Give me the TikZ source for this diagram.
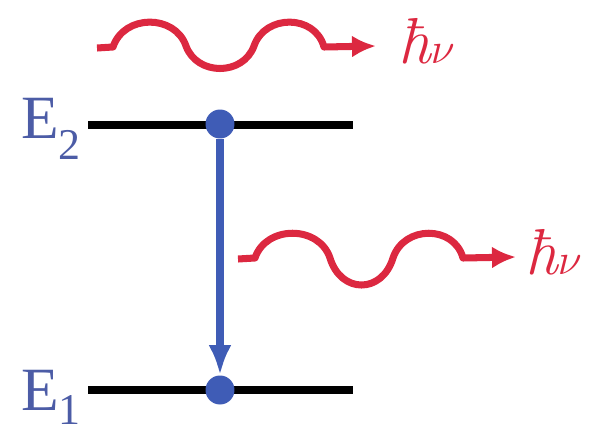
\documentclass[tikz,border=0pt]{standalone}
\usepackage{fontspec}
\newfontfamily\efont{Liberation Serif}
\usepackage{xcolor}
\usepackage{tikz}
\usetikzlibrary{arrows.meta,positioning}
\definecolor{red}{HTML}{DC2840}
\definecolor{blue}{HTML}{3F5CB6}
\definecolor{eblue}{HTML}{4C5CA6}

\begin{document}
\begin{tikzpicture}[
  x=0.02cm,y=-0.02cm,
  lvl/.style={line width=4.7pt,black},
  dot/.style={circle,fill=blue,inner sep=0pt,minimum size=5.8mm},
  el/.style={font=\efont\fontsize{35}{40}\selectfont,text=eblue,inner sep=0pt},
  hv/.style={font=\fontsize{37}{40}\selectfont,text=red,inner sep=0pt},
  ph/.style={red,line width=4pt,line join=round,-{Latex[length=4.8mm,width=4.4mm]}},
  a/.style={blue,line width=5pt,-{Latex[length=6mm,width=4.6mm]}}
]
\useasboundingbox (0,0) rectangle (602,436);
% energy levels
\coordinate (L2a) at (88,125); \coordinate (L2b) at (353,125);
\coordinate (L1a) at (88,390); \coordinate (L1b) at (353,390);
\draw[lvl] (L2a)--(L2b);
\draw[lvl] (L1a)--(L1b);
\node[el,anchor=base west] (E2) at (21,138) {E\raisebox{-12pt}{\fontsize{25}{25}\selectfont 2}};
\node[el,anchor=base west] (E1) at (21,410) {E\raisebox{-8.5pt}{\fontsize{25}{25}\selectfont 1}};
\node[dot] (up) at (220,124) {};
\node[dot] (low) at (220,390) {};
\draw[a] (up)--(low);
% photons
\coordinate (w1s) at (97,48); \coordinate (w1e) at (376,46);
\draw[ph] (w1s)--(113,47) .. controls (124,14) and (175,14) .. (186,46)
  .. controls (197,76) and (243,76) .. (254,46)
  .. controls (265,14) and (315,14) .. (324,47)--(w1e);
\node[hv,right=4.4mm of w1e,yshift=1mm] (hv1) {\itshape ħ$\nu$};
\coordinate (w2s) at (238,259); \coordinate (w2e) at (516,257);
\draw[ph] (w2s)--(255,258) .. controls (266,225) and (319,225) .. (330,258)
  .. controls (341,294) and (382,294) .. (393,258)
  .. controls (404,225) and (454,225) .. (463,258)--(w2e);
\node[hv,right=1.8mm of w2e,yshift=1mm] (hv2) {\itshape ħ$\nu$};
\end{tikzpicture}
\end{document}
